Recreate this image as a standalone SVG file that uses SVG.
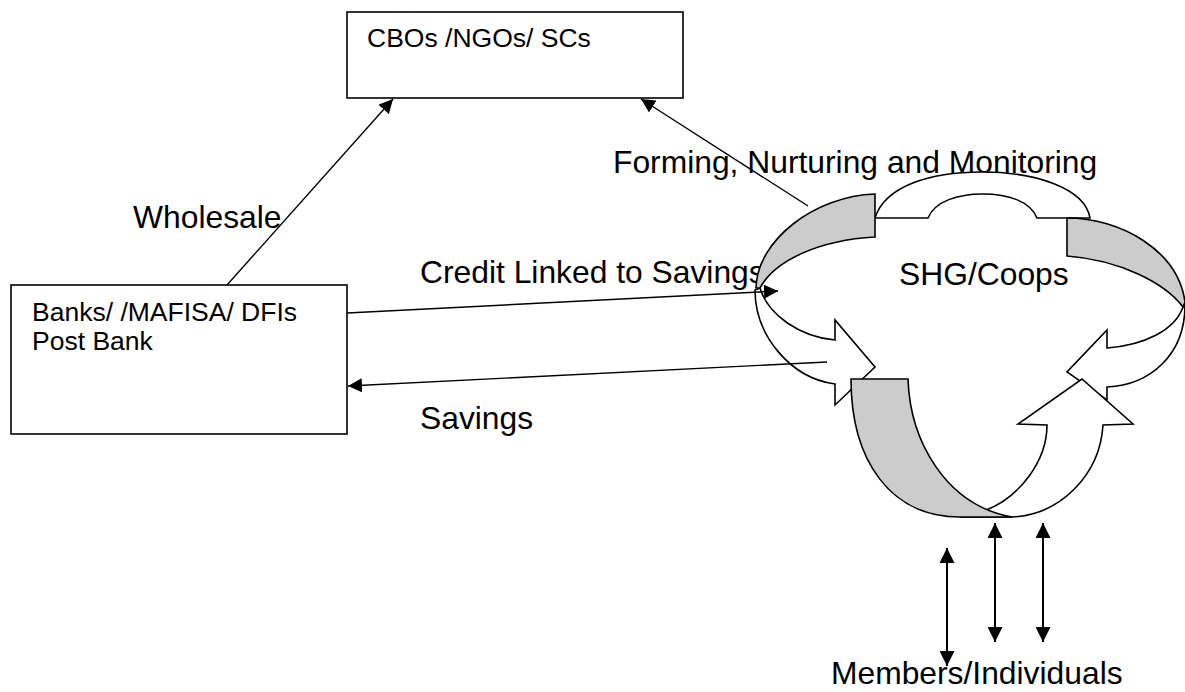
<svg xmlns="http://www.w3.org/2000/svg" width="1185" height="692" viewBox="0 0 1185 692">
<style>
.box{fill:#fff;stroke:#000;stroke-width:1.6}
.t{font-family:"Liberation Sans",Arial,sans-serif;fill:#000}
.bt{font-size:26.5px}
.lt{font-size:31.8px}
.sh{stroke:#000;stroke-width:1.6;stroke-linejoin:miter}
.w{fill:#fff}
.g{fill:#cccccc}
.c{fill:none;stroke:#000;stroke-width:1.4}
.v{fill:none;stroke:#000;stroke-width:2}
</style>
<defs>
<marker id="ah" viewBox="0 0 14 14" markerWidth="14" markerHeight="14" refX="14" refY="7" orient="auto-start-reverse" markerUnits="userSpaceOnUse">
<path d="M0,0 L14,7 L0,14 Z" fill="#000"/>
</marker>
<marker id="ahv" viewBox="0 0 15 15" markerWidth="15" markerHeight="15" refX="15" refY="7.5" orient="auto-start-reverse" markerUnits="userSpaceOnUse">
<path d="M0,0 L15,7.5 L0,15 Z" fill="#000"/>
</marker>
</defs>
<rect width="1185" height="692" fill="#fff"/>

<g id="labels">
<text class="t lt" x="133" y="228">Wholesale</text>
<text class="t lt" x="420" y="283">Credit Linked to Savings</text>
<text class="t lt" x="420" y="429">Savings</text>
<text class="t lt" x="613" y="173">Forming, Nurturing and Monitoring</text>
<text class="t lt" x="831" y="684">Members/Individuals</text>
</g>

<g id="cbos">
<rect class="box" x="347" y="12" width="336" height="86"/>
<text class="t bt" x="367" y="47">CBOs /NGOs/ SCs</text>
</g>

<g id="banks">
<rect class="box" x="11" y="285" width="336" height="149"/>
<text class="t bt" x="32" y="321">Banks/ /MAFISA/ DFIs</text>
<text class="t bt" x="32" y="350">Post Bank</text>
</g>

<g id="shg">
<path class="sh w" d="M875,218 C885,186 930,172 982,172 C1035,172 1085,188 1090,218 L1037,218 C1030,201 1008,194 983,194 C958,194 935,201 928,218 Z"/>
<path class="sh w" d="M760,288 C768,315 800,337 835,340 L835,320 L875,367 L835,405 L835,384 C790,378 755,335 755,290 Z"/>
<path class="sh g" d="M875,194 C815,196 757,240 756,288 L760,288 C775,260 820,240 875,237 Z"/>
<path class="sh w" d="M1183,307 C1175,330 1145,345 1107,348 L1107,330 L1067,372 L1107,400 L1107,387 C1150,385 1185,355 1185,305 Z"/>
<path class="sh g" d="M1067,218 C1120,218 1178,250 1185,302 L1183,307 C1165,283 1120,260 1067,256 Z"/>
<path class="sh w" d="M960,517 L1012,517 C1060,515 1100,475 1103,425 L1133,424 L1082,379 L1018,424 L1047,425 C1047,460 1020,500 978,513 Z"/>
<path class="sh g" d="M851,379 L908,379 C910,440 945,505 1012,517 L960,517 C890,517 851,460 851,379 Z"/>
<text class="t lt" x="899" y="285">SHG/Coops</text>
</g>

<g id="connectors">
<line class="c" x1="227" y1="285" x2="393" y2="99" marker-end="url(#ah)"/>
<line class="c" x1="808" y1="206" x2="641" y2="99" marker-end="url(#ah)"/>
<line class="c" x1="347" y1="313" x2="778" y2="291" marker-end="url(#ah)"/>
<line class="c" x1="827" y1="362" x2="348" y2="386" marker-end="url(#ah)"/>
<line class="v" x1="947" y1="548" x2="947" y2="666" marker-start="url(#ahv)" marker-end="url(#ahv)"/>
<line class="v" x1="995" y1="523" x2="995" y2="642" marker-start="url(#ahv)" marker-end="url(#ahv)"/>
<line class="v" x1="1043" y1="523" x2="1043" y2="642" marker-start="url(#ahv)" marker-end="url(#ahv)"/>
</g>
</svg>
